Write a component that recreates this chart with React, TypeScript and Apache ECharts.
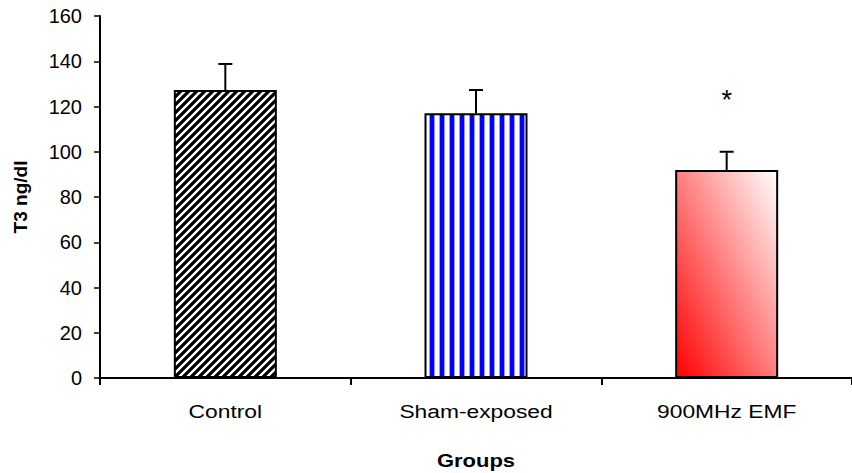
import React, { useEffect, useRef } from "react";
import * as echarts from "echarts";

const categories = ["Control", "Sham-exposed", "900MHz EMF"];
const means = [127.3, 117.0, 91.9];
const sds = [11.5, 10.3, 8.1];
const marks = ["", "", "*"];
const yTicks = { min: 0, max: 160, interval: 20 };
const xTitle = "Groups";
const yTitle = "T3 ng/dl";

function makeDiagonal(): HTMLCanvasElement {
  const c = document.createElement("canvas");
  c.width = 8;
  c.height = 8;
  const ctx = c.getContext("2d")!;
  ctx.fillStyle = "#ffffff";
  ctx.fillRect(0, 0, 8, 8);
  ctx.strokeStyle = "#000000";
  ctx.lineWidth = 3.2;
  ctx.beginPath();
  for (const off of [-8, 0, 8]) {
    ctx.moveTo(off - 1, 9);
    ctx.lineTo(off + 9, -1);
  }
  ctx.stroke();
  return c;
}

function makeVertical(): HTMLCanvasElement {
  const c = document.createElement("canvas");
  c.width = 10;
  c.height = 4;
  const ctx = c.getContext("2d")!;
  const cols = ["#0000ff", "#0000ff", "#0000ff", "#0000ff", "#9a9aff", "#ffffff", "#ffffff", "#ffffff", "#ffffff", "#9a9aff"];
  cols.forEach((col, i) => {
    ctx.fillStyle = col;
    ctx.fillRect(i, 0, 1, 4);
  });
  return c;
}

export default function App() {
  const ref = useRef<HTMLDivElement>(null);
  useEffect(() => {
    if (!ref.current) return;
    const chart = echarts.init(ref.current, undefined, { renderer: "svg" });
    const fills: any[] = [
      { image: makeDiagonal(), repeat: "repeat" },
      { image: makeVertical(), repeat: "repeat" },
      new echarts.graphic.LinearGradient(0, 1, 1, 0, [
        { offset: 0, color: "#ff0000" },
        { offset: 1, color: "#ffffff" },
      ]),
    ];
    const font = "'Liberation Sans', Arial, sans-serif";
    chart.setOption({
      animation: false,
      grid: { left: 100, right: 0, top: 16, bottom: 95, containLabel: false, outerBoundsMode: "none" },
      graphic: [
        {
          type: "text",
          x: 476,
          y: 461,
          scaleX: 1.22,
          style: { text: xTitle, fontFamily: font, fontSize: 18, fontWeight: "bold", fill: "#000", align: "center", verticalAlign: "middle" },
        },
      ],
      xAxis: {
        type: "category",
        data: categories,
        axisLine: { lineStyle: { color: "#000", width: 2 } },
        axisTick: { show: true, length: 7, lineStyle: { color: "#000", width: 2 } },
        axisLabel: { show: false },
      },
      yAxis: {
        type: "value",
        min: yTicks.min,
        max: yTicks.max,
        interval: yTicks.interval,
        name: yTitle,
        nameLocation: "middle",
        nameGap: 70,
        nameTextStyle: { fontFamily: font, fontSize: 19, fontWeight: "bold", color: "#000" },
        axisLine: { show: true, lineStyle: { color: "#000", width: 2 } },
        axisTick: { show: true, length: 6, lineStyle: { color: "#000", width: 1.5 } },
        axisLabel: { fontFamily: font, fontSize: 20, color: "#000", margin: 18 },
        splitLine: { show: false },
      },
      series: [
        {
          type: "bar",
          barWidth: 103,
          z: 3,
          data: means.map((v, i) => ({
            value: v,
            itemStyle: { color: fills[i], borderColor: "#000", borderWidth: 2 },
          })),
        },
        {
          type: "custom",
          z: 4,
          clip: false,
          data: means.map((v, i) => [i, v, v + sds[i]]),
          renderItem: (params: any, api: any) => {
            const i = api.value(0);
            const base = api.coord([i, api.value(1)]);
            const top = api.coord([i, api.value(2)]);
            const zero = api.coord([i, 0]);
            const half = 7;
            const children: any[] = [
              { type: "line", shape: { x1: base[0], y1: base[1], x2: top[0], y2: top[1] }, style: { stroke: "#000", lineWidth: 2 } },
              { type: "line", shape: { x1: top[0] - half, y1: top[1], x2: top[0] + half, y2: top[1] }, style: { stroke: "#000", lineWidth: 2 } },
              {
                type: "text",
                x: zero[0],
                y: zero[1] + 33,
                scaleX: 1.2,
                style: { text: categories[params.dataIndex], fontFamily: font, fontSize: 19, fill: "#000", align: "center", verticalAlign: "middle" },
              },
            ];
            const m = marks[params.dataIndex];
            if (m) {
              children.push({
                type: "text",
                x: top[0],
                y: top[1] - 65,
                style: { text: m, fontSize: 27, fontFamily: font, fill: "#000", align: "center", verticalAlign: "top" },
              });
            }
            return { type: "group", children };
          },
        },
      ],
    });
    return () => chart.dispose();
  }, []);
  return <div ref={ref} style={{ position: "absolute", left: 0, top: 0, width: 852, height: 473 }} />;
}
